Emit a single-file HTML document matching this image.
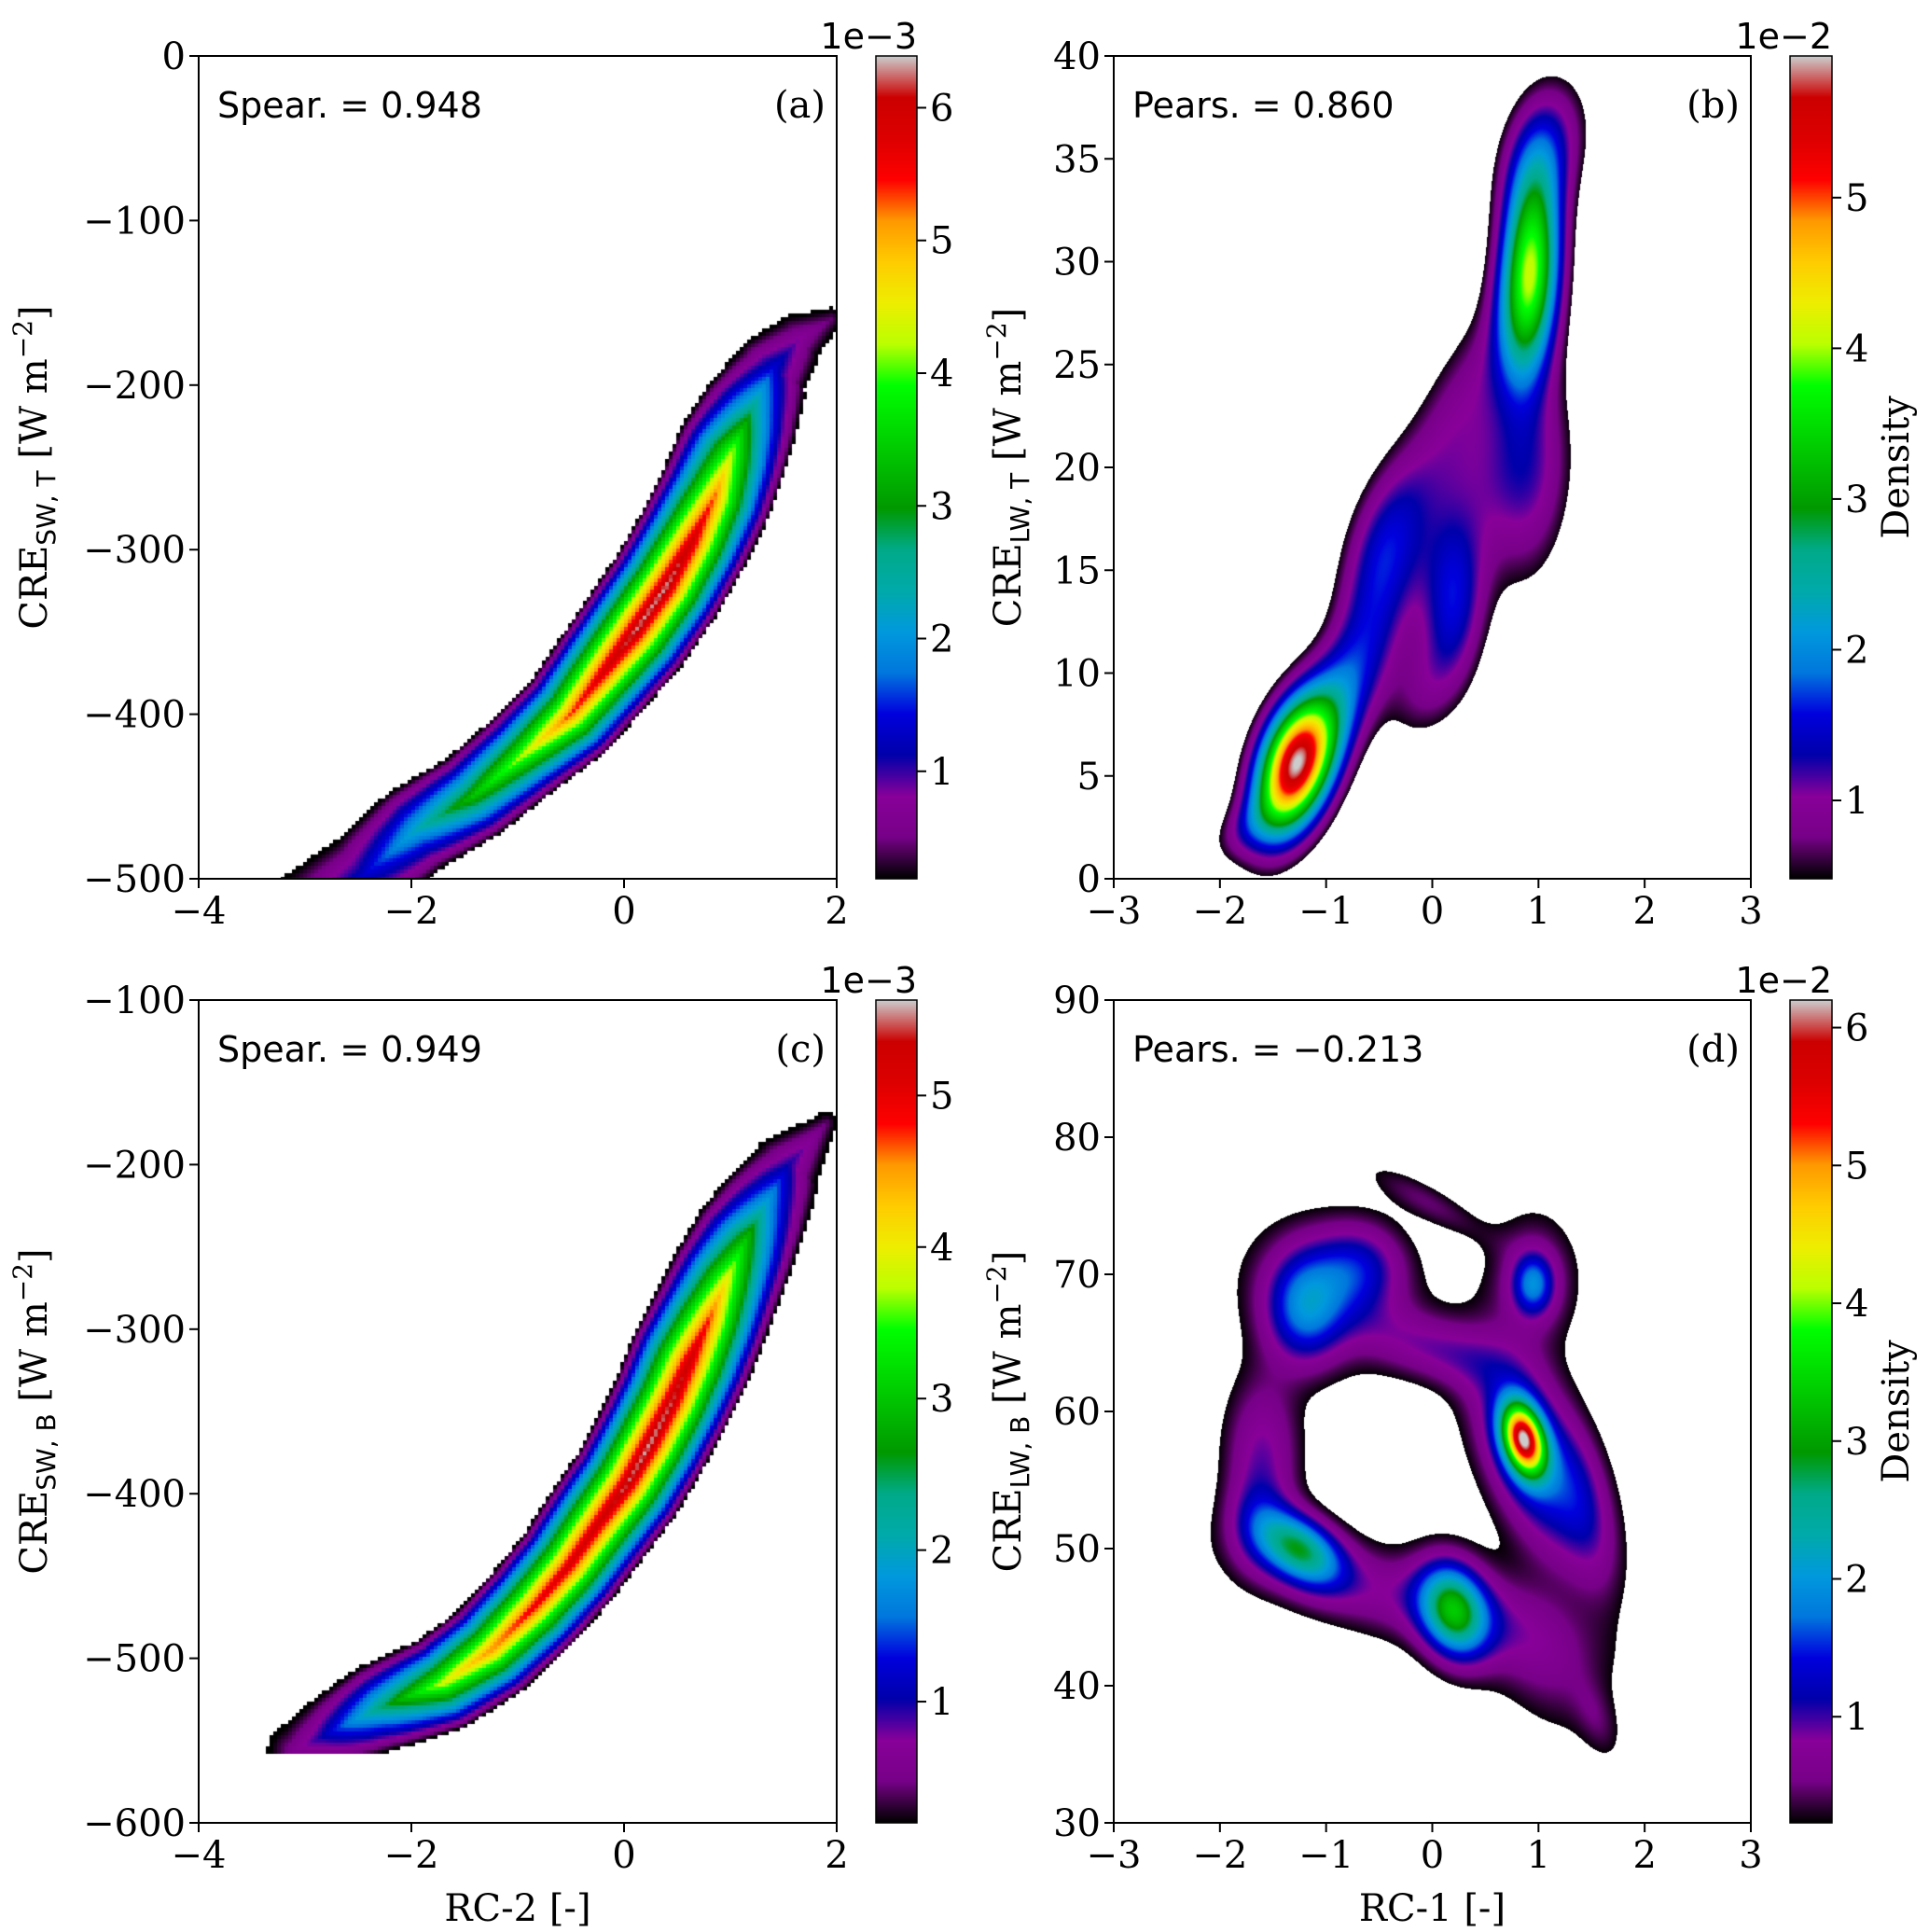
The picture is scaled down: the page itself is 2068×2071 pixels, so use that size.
<!DOCTYPE html>
<html><head><meta charset="utf-8">
<style>
html,body{margin:0;padding:0;background:#fff;}
#root{position:relative;width:2068px;height:2071px;overflow:hidden;background:#fff;}
canvas{position:absolute;}
svg{position:absolute;left:0;top:0;}
</style></head>
<body>
<div id="root">
<canvas id="ca"></canvas>
<canvas id="cb"></canvas>
<canvas id="cc"></canvas>
<canvas id="cd"></canvas>
<canvas id="cba"></canvas>
<canvas id="cbb"></canvas>
<canvas id="cbc"></canvas>
<canvas id="cbd"></canvas>
<svg id="ov" width="2068" height="2071"></svg>
</div>
<script>
// ---- Panel (a): density ridge (x, y, peak density, half-spread in x units) ----
const aRidgeX   = [-3.0,-2.45,-1.95,-1.42,-0.95,-0.5,-0.2,0.1,0.4,0.64,0.85,1.02,1.2,1.4,1.65,1.95];
const aRidgeY   = [-520,-498,-470,-450,-425,-400,-375,-350,-322,-295,-268,-240,-215,-190,-172,-160];
const aRidgeAmp = [0.9,1.3,2.3,3.4,4.3,5.4,5.9,6.3,6.35,6.0,5.3,4.2,2.7,1.4,0.8,0.45];
const aRidgeHalf= [0.45,0.46,0.46,0.45,0.46,0.5,0.53,0.56,0.56,0.56,0.56,0.55,0.5,0.4,0.3,0.15];
// ---- Panel (c) ----
const cRidgeX   = [-3.1,-2.85,-2.3,-1.7,-1.25,-0.85,-0.52,-0.25,0.03,0.25,0.45,0.62,0.8,0.97,1.15,1.32,1.55,1.9];
const cRidgeY   = [-556,-548,-530,-515,-495,-469,-444,-419,-394,-369,-344,-319,-294,-269,-245,-225,-200,-175];
const cRidgeAmp = [0.6,1.0,2.4,3.9,4.6,5.0,5.2,5.3,5.5,5.6,5.5,5.3,4.8,4.0,3.0,2.0,1.0,0.45];
const cRidgeHalf= [0.32,0.38,0.45,0.48,0.5,0.52,0.53,0.55,0.56,0.57,0.58,0.6,0.58,0.56,0.53,0.48,0.38,0.15];
// ---- Panel (b): gaussian blobs ----
const bX   = [-1.3,-1.05,-0.45,0.2,-0.75,0.92,1.05,0.95,0.3,-1.75,-0.1,0.55];
const bY   = [5.6,6.5,16.0,13.5,10.5,29.5,35.5,19.0,23.5,2.5,9.0,19.5];
const bSx  = [0.26,0.4,0.3,0.22,0.35,0.2,0.3,0.3,0.45,0.25,0.25,0.4];
const bSy  = [2.3,3.5,3.0,3.0,3.0,3.6,2.5,4.0,4.0,1.2,2.0,3.0];
const bRho = [0.35,0.75,0.4,0.1,0.6,0.2,0.3,0.2,0.7,0.5,0.3,0.3];
const bAmp = [4.9,1.1,1.3,1.4,0.8,3.8,1.1,0.8,0.75,0.6,0.6,0.6];
// ---- Panel (d): gaussian blobs ----
const dX   = [0.86,0.95,0.95,0.95,-0.05,-1.2,-0.7,-1.0,0.05,-1.6,-1.25,0.2,-0.3,1.0,1.55,1.45,-1.65];
const dY   = [58,56.5,69.3,69.5,75.3,67.5,70.5,68.5,64.5,57,50,45.5,46.5,42,37.5,53,52];
const dSx  = [0.14,0.38,0.13,0.3,0.4,0.25,0.3,0.55,0.5,0.25,0.28,0.22,1.0,0.45,0.15,0.22,0.2];
const dSy  = [1.8,5.0,1.5,3.5,1.9,2.8,2.3,3.6,2.0,4.0,1.9,2.4,3.0,4.0,2.0,4.5,2.5];
const dRho = [-0.3,-0.55,0,0,-0.84,0,0,-0.2,-0.5,0,-0.4,-0.2,-0.65,-0.5,-0.5,-0.5,0];
const dAmp = [4.8,1.6,1.3,0.65,0.45,1.4,1.0,0.6,0.75,0.85,2.4,2.6,0.75,0.5,0.3,0.6,0.5];

const CM=[[0,0,0,0],[.05,.4667,0,.5333],[.10,.5333,0,.6],[.15,0,0,.6667],[.20,0,0,.8667],[.25,0,.4667,.8667],[.30,0,.6,.8667],[.35,0,.6667,.6667],[.40,0,.6667,.5333],[.45,0,.6,0],[.50,0,.7333,0],[.55,0,.8667,0],[.60,0,1,0],[.65,.7333,1,0],[.70,.9333,.9333,0],[.75,1,.8,0],[.80,1,.6,0],[.85,1,0,0],[.90,.8667,0,0],[.95,.8,0,0],[1,.8,.8,.8]];
function cmap(t){t=Math.max(0,Math.min(1,t));for(let i=1;i<CM.length;i++){if(t<=CM[i][0]){const a=CM[i-1],b=CM[i],f=(t-a[0])/(b[0]-a[0]);return [255*(a[1]+f*(b[1]-a[1])),255*(a[2]+f*(b[2]-a[2])),255*(a[3]+f*(b[3]-a[3]))];}}return [204,204,204];}

const P={
 a:{L:213,T:60,R:897,B:942,x0:-4,x1:2,y0:-500,y1:0,vmin:0.19,vmax:6.39,cb:[939,983],xt:[-4,-2,0,2],yt:[0,-100,-200,-300,-400,-500],ct:[1,2,3,4,5,6],exp:"1e\u22123",ann:"Spear. = 0.948",tag:"(a)",ylab:["SW, T"],xlab:null,dens:false,yoff:163,ymin:-1e9},
 b:{L:1194,T:60,R:1877,B:942,x0:-3,x1:3,y0:0,y1:40,vmin:0.48,vmax:5.94,cb:[1919,1964],xt:[-3,-2,-1,0,1,2,3],yt:[0,5,10,15,20,25,30,35,40],ct:[1,2,3,4,5],exp:"1e\u22122",ann:"Pears. = 0.860",tag:"(b)",ylab:["LW, T"],xlab:null,dens:true,yoff:100,ymin:-1e9},
 c:{L:213,T:1072,R:897,B:1954,x0:-4,x1:2,y0:-600,y1:-100,vmin:0.2,vmax:5.63,cb:[939,983],xt:[-4,-2,0,2],yt:[-100,-200,-300,-400,-500,-600],ct:[1,2,3,4,5],exp:"1e\u22123",ann:"Spear. = 0.949",tag:"(c)",ylab:["SW, B"],xlab:"RC-2 [-]",dens:false,yoff:163,ymin:-558},
 d:{L:1194,T:1072,R:1877,B:1954,x0:-3,x1:3,y0:30,y1:90,vmin:0.23,vmax:6.2,cb:[1919,1964],xt:[-3,-2,-1,0,1,2,3],yt:[30,40,50,60,70,80,90],ct:[1,2,3,4,5,6],exp:"1e\u22122",ann:"Pears. = \u22120.213",tag:"(d)",ylab:["LW, B"],xlab:"RC-1 [-]",dens:true,yoff:100,ymin:-1e9}
};

function makeRidge(p,RX,RY,RA,RH){
 const kx=(p.R-p.L)/(p.x1-p.x0), ky=(p.B-p.T)/(p.y1-p.y0);
 const X=RX.map(v=>v*kx), Y=RY.map(v=>-v*ky);
 return function(x,y){
  const sx=x*kx, sy=-y*ky; let best=1e9,bi=0,bt=0;
  for(let i=0;i<X.length-1;i++){
   const dx=X[i+1]-X[i],dy=Y[i+1]-Y[i],L2=dx*dx+dy*dy;
   let t=((sx-X[i])*dx+(sy-Y[i])*dy)/L2; t=Math.max(0,Math.min(1,t));
   const ex=X[i]+t*dx-sx,ey=Y[i]+t*dy-sy,d=ex*ex+ey*ey;
   if(d<best){best=d;bi=i;bt=t;}
  }
  const A=RA[bi]+bt*(RA[bi+1]-RA[bi]), h=(RH[bi]+bt*(RH[bi+1]-RH[bi]))*kx;
  const u=1-Math.sqrt(best)/h; if(u<=0) return 0;
  return A*Math.pow(u,1.0);
 };
}
function blobVal(X,Y,SX,SY,R,AM,x,y){
 let v=0;
 for(let i=0;i<X.length;i++){
  const u=(x-X[i])/SX[i],w=(y-Y[i])/SY[i],r=R[i];
  const q=(u*u-2*r*u*w+w*w)/(1-r*r);
  v+=AM[i]*Math.exp(-0.5*q);
 }
 return v;
}
function drawPanel(id,p,fn,cell,thr){
 const c=document.getElementById(id);const W=p.R-p.L,H=p.B-p.T;
 c.width=W;c.height=H;c.style.left=p.L+'px';c.style.top=p.T+'px';
 const ctx=c.getContext('2d');const img=ctx.createImageData(W,H);const D=img.data;
 for(let py=0;py<H;py+=cell){for(let px=0;px<W;px+=cell){
  const x=p.x0+(px+cell/2)/W*(p.x1-p.x0),y=p.y1-(py+cell/2)/H*(p.y1-p.y0);
  const v=y<p.ymin?0:fn(x,y);let col=[255,255,255];
  if(v>=thr) col=cmap((v-p.vmin)/(p.vmax-p.vmin));
  for(let yy=py;yy<Math.min(H,py+cell);yy++)for(let xx=px;xx<Math.min(W,px+cell);xx++){const k=(yy*W+xx)*4;D[k]=col[0];D[k+1]=col[1];D[k+2]=col[2];D[k+3]=255;}
 }}
 ctx.putImageData(img,0,0);
}
drawPanel('ca',P.a,makeRidge(P.a,aRidgeX,aRidgeY,aRidgeAmp,aRidgeHalf),4,0.12);
drawPanel('cc',P.c,makeRidge(P.c,cRidgeX,cRidgeY,cRidgeAmp,cRidgeHalf),4,0.12);
drawPanel('cb',P.b,(x,y)=>blobVal(bX,bY,bSx,bSy,bRho,bAmp,x,y),1,P.b.vmin*1.05);
drawPanel('cd',P.d,(x,y)=>blobVal(dX,dY,dSx,dSy,dRho,dAmp,x,y),1,P.d.vmin*1.05);

function drawCB(id,p){
 const c=document.getElementById(id);const W=p.cb[1]-p.cb[0],H=p.B-p.T;
 c.width=W;c.height=H;c.style.left=p.cb[0]+'px';c.style.top=p.T+'px';
 const ctx=c.getContext('2d');
 for(let y=0;y<H;y++){const col=cmap(1-y/(H-1));ctx.fillStyle='rgb('+col.map(Math.round).join(',')+')';ctx.fillRect(0,y,W,1);}
}
drawCB('cba',P.a);drawCB('cbb',P.b);drawCB('cbc',P.c);drawCB('cbd',P.d);

const NS='http://www.w3.org/2000/svg';const ov=document.getElementById('ov');
function el(tag,attrs,parent){const e=document.createElementNS(NS,tag);for(const k in attrs)e.setAttribute(k,attrs[k]);(parent||ov).appendChild(e);return e;}
const SERIF='"DejaVu Serif","Liberation Serif",serif',SANS='"DejaVu Sans","Liberation Sans",sans-serif';
function fmt(v){return v<0?'\u2212'+(-v):''+v;}
for(const key of ['a','b','c','d']){
 const p=P[key];const g=el('g',{});
 
 
 const fr=el('rect',{x:p.L,y:p.T,width:p.R-p.L,height:p.B-p.T,fill:'none',stroke:'#000','stroke-width':2},g);
 
 
 const sx=v=>p.L+(v-p.x0)/(p.x1-p.x0)*(p.R-p.L), sy=v=>p.B-(v-p.y0)/(p.y1-p.y0)*(p.B-p.T);
 for(const v of p.xt){const X=sx(v);el('line',{x1:X,x2:X,y1:p.B,y2:p.B+10,stroke:'#000','stroke-width':2},g);
  const t=el('text',{x:X,y:p.B+48,'text-anchor':'middle','font-family':SERIF,'font-size':40},g);t.textContent=fmt(v);
  
  }
 for(const v of p.yt){const Y=sy(v);el('line',{x1:p.L-10,x2:p.L,y1:Y,y2:Y,stroke:'#000','stroke-width':2},g);
  const t=el('text',{x:p.L-14,y:Y+14,'text-anchor':'end','font-family':SERIF,'font-size':40},g);t.textContent=fmt(v);
  
  }
 const cf=el('rect',{x:p.cb[0],y:p.T,width:p.cb[1]-p.cb[0],height:p.B-p.T,fill:'none',stroke:'#000','stroke-width':1.5},g);
 
 
 for(const v of p.ct){const Y=p.B-(v-p.vmin)/(p.vmax-p.vmin)*(p.B-p.T);el('line',{x1:p.cb[1],x2:p.cb[1]+10,y1:Y,y2:Y,stroke:'#000','stroke-width':2},g);
  const t=el('text',{x:p.cb[1]+14,y:Y+14,'font-family':SERIF,'font-size':40},g);t.textContent=v;
  
  }
 const ex=el('text',{x:p.cb[1],y:p.T-8,'text-anchor':'end','font-family':SANS,'font-size':38},g);ex.textContent=p.exp;
 
 
 const an=el('text',{x:p.L+20,y:p.T+66,'font-family':SANS,'font-size':38},g);an.textContent=p.ann;
 
 
 const tg=el('text',{x:p.R-12,y:p.T+66,'text-anchor':'end','font-family':SERIF,'font-size':40},g);tg.textContent=p.tag;
 
 
 const cx=p.L-p.yoff,cy=(p.T+p.B)/2;
 const yl=el('text',{x:cx,y:cy,'text-anchor':'middle','font-family':SERIF,'font-size':40,transform:'rotate(-90 '+cx+' '+cy+')'},g);
 
 
 el('tspan',{},yl).textContent='CRE';
 el('tspan',{'font-family':SANS,'font-size':28,dy:9},yl).textContent=p.ylab[0];
 el('tspan',{dy:-9},yl).textContent=' [W m';
 el('tspan',{'font-size':28,dy:-16},yl).textContent='\u22122';
 el('tspan',{dy:16},yl).textContent=']';
 if(p.dens){const dx=p.cb[1]+82;const dt=el('text',{x:dx,y:cy,'text-anchor':'middle','font-family':SERIF,'font-size':40,transform:'rotate(-90 '+dx+' '+cy+')'},g);dt.textContent='Density';
  
  }
 if(p.xlab){const xt=el('text',{x:(p.L+p.R)/2,y:p.B+105,'text-anchor':'middle','font-family':SERIF,'font-size':40},g);xt.textContent=p.xlab;
  
  }
}
</script>
</body></html>
